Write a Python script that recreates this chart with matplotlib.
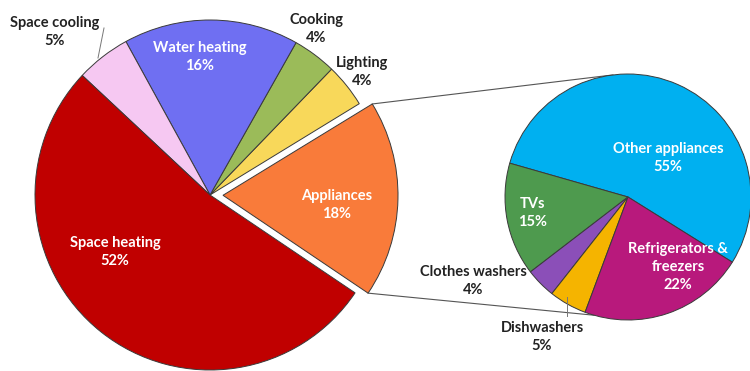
import matplotlib.pyplot as plt
import numpy as np

plt.rcParams['font.family'] = ['Lato', 'DejaVu Sans']

# main pie (counter-clockwise from appliances)
main_labels = ["Appliances", "Lighting", "Cooking", "Water heating", "Space cooling", "Space heating"]
main_values = [18, 4, 4, 16, 5, 52]
main_colors = ["#F97B3A", "#F8D85A", "#9BBB59", "#6F6FF2", "#F6C8F2", "#C00000"]

# appliances breakdown
sub_labels = ["Other appliances", "TVs", "Clothes washers", "Dishwashers", "Refrigerators &\nfreezers"]
sub_values = [55, 15, 4, 5, 22]
sub_colors = ["#00B0F0", "#4E9A4E", "#8B4FB8", "#F5B400", "#B8197C"]

W, H = 750, 371
fig = plt.figure(figsize=(7.5, 3.71), dpi=100)
ax = fig.add_axes([0, 0, 1, 1])

def py(y):
    # pixel row -> data y
    return H - y

edge = dict(edgecolor="#3a3a3a", linewidth=0.7)
# explode is in data units here (pie doesn't scale it by radius)
wedges, _ = ax.pie(main_values, colors=main_colors, startangle=-34, counterclock=True,
                   center=(210, py(195)), radius=175, explode=[13, 0, 0, 0, 0, 0],
                   wedgeprops=edge)
sub_wedges, _ = ax.pie(sub_values, colors=sub_colors, startangle=-32, counterclock=True,
                       center=(628, py(197)), radius=123, wedgeprops=edge)

# pie() resets the limits, so set them afterwards
ax.set_xlim(0, W)
ax.set_ylim(0, H)
ax.set_aspect('equal')
ax.axis('off')

# connector lines from appliances wedge to the breakdown pie
app = wedges[0]
cx, cy = app.center
sx, sy = sub_wedges[0].center
for th, th2 in [(app.theta2, 97), (app.theta1, 254)]:
    x0 = cx + app.r * np.cos(np.radians(th))
    y0 = cy + app.r * np.sin(np.radians(th))
    x1 = sx + 123 * np.cos(np.radians(th2))
    y1 = sy + 123 * np.sin(np.radians(th2))
    ax.plot([x0, x1], [y0, y1], color="#555555", lw=0.8, zorder=0)

fs = 10.5
def label(x, y, txt, color="white"):
    ax.text(x, py(y), txt, ha='center', va='center', fontsize=fs, fontweight='bold',
            color=color, linespacing=1.35)

label(200, 57, "Water heating\n16%")
label(337, 205, "Appliances\n18%")
label(115, 252, "Space heating\n52%")
label(55, 32, "Space cooling\n5%", "#222222")
label(316, 29, "Cooking\n4%", "#222222")
label(362, 72, "Lighting\n4%", "#222222")

label(668, 158, "Other appliances\n55%")
label(533, 213, "TVs\n15%")
label(678, 267, "Refrigerators &\nfreezers\n22%")
label(473, 281, "Clothes washers\n4%", "#222222")
label(542, 337, "Dishwashers\n5%", "#222222")

# leader lines
ax.plot([104, 98], [py(28), py(58)], color="#777777", lw=0.7)
ax.plot([567, 567], [py(297), py(316)], color="#777777", lw=0.7)

fig.savefig("out.png", dpi=100)
